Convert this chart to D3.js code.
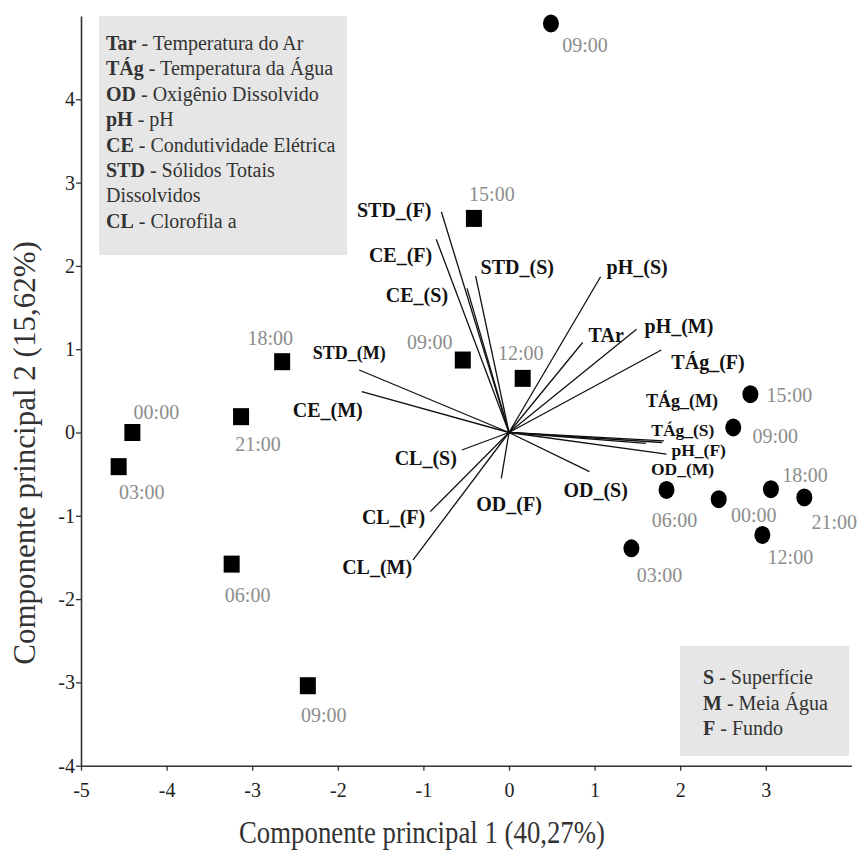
<!DOCTYPE html>
<html>
<head>
<meta charset="utf-8">
<script src="https://cdn.jsdelivr.net/npm/d3@7"></script>
<style>
    body { margin: 0; background: #fff; }
    svg text { font-family: "Liberation Serif", "Times New Roman", serif; }
</style>
</head>
<body>
<div id="chart"></div>
<script>
// axis ticks
var xTicks = [-5, -4, -3, -2, -1, 0, 1, 2, 3];
var yTicks = [-4, -3, -2, -1, 0, 1, 2, 3, 4];

// samples shown as squares
var squareTimes = ["15:00", "09:00", "12:00", "18:00", "21:00", "00:00", "03:00", "06:00", "09:00"];
var squarePC1 = [-0.41, -0.54, 0.16, -2.65, -3.13, -4.40, -4.56, -3.24, -2.35];
var squarePC2 = [2.57, 0.87, 0.65, 0.85, 0.19, 0.00, -0.41, -1.58, -3.04];

// samples shown as circles
var circleTimes = ["09:00", "15:00", "09:00", "06:00", "00:00", "18:00", "21:00", "12:00", "03:00"];
var circlePC1 = [0.49, 2.82, 2.62, 1.84, 2.45, 3.06, 3.45, 2.96, 1.43];
var circlePC2 = [4.91, 0.46, 0.06, -0.69, -0.80, -0.68, -0.78, -1.23, -1.39];

// variable loadings
var varNames = ["STD_(F)", "CE_(F)", "CE_(S)", "STD_(S)", "pH_(S)", "TAr", "pH_(M)", "TÁg_(F)",
    "TÁg_(M)", "TÁg_(S)", "OD_(M)", "pH_(F)", "OD_(S)", "OD_(F)", "CL_(S)", "CL_(F)", "CL_(M)",
    "STD_(M)", "CE_(M)"];
var varPC1 = [-0.79, -0.85, -0.49, -0.39, 1.07, 0.86, 1.49, 1.78,
    1.81, 1.79, 1.60, 1.84, 0.94, -0.09, -0.55, -0.92, -1.12,
    -1.75, -1.72];
var varPC2 = [2.65, 2.32, 1.73, 1.88, 1.87, 1.08, 1.24, 0.99,
    -0.10, -0.12, -0.13, -0.26, -0.47, -0.55, -0.21, -0.95, -1.53,
    0.75, 0.49];

var legendVars = [["Tar", " - Temperatura do Ar"], ["TÁg", " - Temperatura da Água"],
    ["OD", " - Oxigênio Dissolvido"], ["pH", " - pH"], ["CE", " - Condutividade Elétrica"],
    ["STD", " - Sólidos Totais"], ["", "Dissolvidos"], ["CL", " - Clorofila a"]];
var legendDepth = [["S", " - Superfície"], ["M", " - Meia Água"], ["F", " - Fundo"]];

// label placement (pixels, relative to mark)
var squareLabelPos = [[18, -24], [-33, -18], [-2, -25], [-12, -24], [17, 27], [24, -21], [23, 25], [16, 31], [16, 29]];
var circleLabelPos = [[34, 22], [39, 1], [42, 8], [8, 30], [35, 16], [34, -14], [30, 25], [28, 22], [28, 27]];
var varLabelPos = {
    "STD_(F)": [-10, -2, "end", 20], "CE_(F)": [-4, 16, "end", 20], "CE_(S)": [-19, 7, "end", 20],
    "STD_(S)": [5, -9, "start", 20], "pH_(S)": [6, -10, "start", 20], "TAr": [6, -8, "start", 20],
    "pH_(M)": [8, -3, "start", 20], "TÁg_(F)": [10, 12, "start", 20],
    "TÁg_(M)": [-18, -40, "start", 18], "TÁg_(S)": [-11, -13, "start", 17.5],
    "OD_(M)": [5, 26, "start", 17.5], "pH_(F)": [5, -4, "start", 17.5],
    "OD_(S)": [-26, 18, "start", 20], "OD_(F)": [-25, 26, "start", 20],
    "CL_(S)": [-5, 8, "end", 20], "CL_(F)": [-5, 5, "end", 20], "CL_(M)": [-1, 7, "end", 20],
    "STD_(M)": [-10, -17, "middle", 18], "CE_(M)": [-34, 18, "middle", 20]
};

var width = 859;
var height = 850;

var svg = d3.select("#chart")
    .append("svg")
    .attr("width", width)
    .attr("height", height);

var x = d3.scaleLinear().domain([-5, 4]).range([81, 851.4]);
var y = d3.scaleLinear().domain([-4, 5]).range([765.7, 16]);

// legend boxes
svg.append("rect")
    .attr("x", 99).attr("y", 16)
    .attr("width", 248).attr("height", 239)
    .style("fill", "#e6e6e6");

svg.append("rect")
    .attr("x", 680).attr("y", 646)
    .attr("width", 169).attr("height", 110)
    .style("fill", "#e6e6e6");

legendVars.forEach(function(d, i) {
    var t = svg.append("text")
        .attr("x", 106)
        .attr("y", 50 + i * 25.4)
        .style("font-size", "20px")
        .style("fill", "#333");
    t.append("tspan").style("font-weight", "bold").text(d[0]);
    t.append("tspan").text(d[1]);
});

legendDepth.forEach(function(d, i) {
    var t = svg.append("text")
        .attr("x", 703)
        .attr("y", 684 + i * 25.5)
        .style("font-size", "20px")
        .style("fill", "#333");
    t.append("tspan").style("font-weight", "bold").text(d[0]);
    t.append("tspan").text(d[1]);
});

// axes
var xAxis = svg.append("g")
    .attr("transform", "translate(0," + y(-4) + ")")
    .call(d3.axisBottom(x).tickValues(xTicks).tickSize(5).tickSizeOuter(0).tickPadding(12)
        .tickFormat(function(d) { return String(d); }));

var yAxis = svg.append("g")
    .attr("transform", "translate(" + x(-5) + ",0)")
    .call(d3.axisLeft(y).tickValues(yTicks).tickSize(5).tickSizeOuter(0).tickPadding(1)
        .tickFormat(function(d) { return String(d); }));

[xAxis, yAxis].forEach(function(a) {
    a.select(".domain").style("stroke", "#333").style("stroke-width", 1.6);
    a.selectAll(".tick line").style("stroke", "#333").style("stroke-width", 1.3);
    a.selectAll(".tick text")
        .style("font-family", "'Liberation Serif', serif")
        .style("font-size", "20px")
        .style("fill", "#222");
});

svg.append("text")
    .attr("x", 422)
    .attr("y", 843)
    .attr("text-anchor", "middle")
    .attr("textLength", 366)
    .attr("lengthAdjust", "spacingAndGlyphs")
    .style("font-size", "32px")
    .style("fill", "#333")
    .text("Componente principal 1 (40,27%)");

svg.append("text")
    .attr("transform", "translate(35,453) rotate(-90)")
    .attr("text-anchor", "middle")
    .style("font-size", "31px")
    .style("fill", "#333")
    .text("Componente principal 2 (15,62%)");

// loading vectors
var vectors = svg.append("g");

varNames.forEach(function(name, i) {
    vectors.append("line")
        .attr("x1", x(0))
        .attr("y1", y(0))
        .attr("x2", x(varPC1[i]))
        .attr("y2", y(varPC2[i]))
        .style("stroke", "#111")
        .style("stroke-width", 1.3);

    var p = varLabelPos[name];
    vectors.append("text")
        .attr("x", x(varPC1[i]) + p[0])
        .attr("y", y(varPC2[i]) + p[1])
        .attr("dy", "0.35em")
        .attr("text-anchor", p[2])
        .style("font-size", p[3] + "px")
        .style("font-weight", "bold")
        .style("fill", "#111")
        .text(name);
});

// squares
squareTimes.forEach(function(t, i) {
    var cx = x(squarePC1[i]);
    var cy = y(squarePC2[i]);
    svg.append("rect")
        .attr("x", cx - 8)
        .attr("y", cy - 8.5)
        .attr("width", 16)
        .attr("height", 17)
        .style("fill", "#000");
    svg.append("text")
        .attr("x", cx + squareLabelPos[i][0])
        .attr("y", cy + squareLabelPos[i][1])
        .attr("dy", "0.35em")
        .attr("text-anchor", "middle")
        .style("font-size", "20px")
        .style("fill", "#8c8c8c")
        .text(t);
});

// circles
circleTimes.forEach(function(t, i) {
    var cx = x(circlePC1[i]);
    var cy = y(circlePC2[i]);
    svg.append("ellipse")
        .attr("cx", cx)
        .attr("cy", cy)
        .attr("rx", 8)
        .attr("ry", 9)
        .style("fill", "#000");
    svg.append("text")
        .attr("x", cx + circleLabelPos[i][0])
        .attr("y", cy + circleLabelPos[i][1])
        .attr("dy", "0.35em")
        .attr("text-anchor", "middle")
        .style("font-size", "20px")
        .style("fill", "#8c8c8c")
        .text(t);
});
</script>
</body>
</html>
